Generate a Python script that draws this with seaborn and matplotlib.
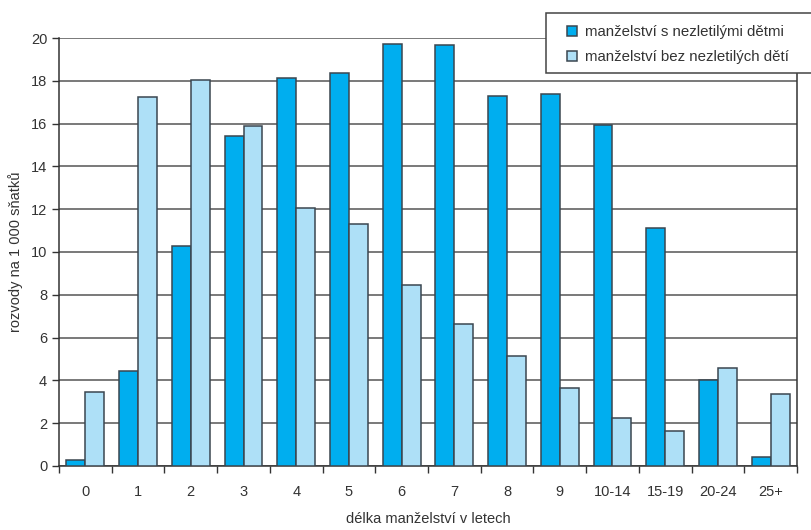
import matplotlib
matplotlib.use("Agg")
import matplotlib.pyplot as plt
from matplotlib.patches import Rectangle
import pandas as pd
import seaborn as sns

# délka manželství v letech
categories = ["0", "1", "2", "3", "4", "5", "6", "7", "8", "9",
              "10-14", "15-19", "20-24", "25+"]
s_detmi = [0.3, 4.45, 10.3, 15.4, 18.15, 18.35, 19.7, 19.65, 17.3, 17.4,
           15.95, 11.1, 4.0, 0.42]
bez_deti = [3.45, 17.25, 18.05, 15.9, 12.07, 11.3, 8.47, 6.65, 5.15, 3.65,
            2.25, 1.63, 4.57, 3.37]
series = ["manželství s nezletilými dětmi", "manželství bez nezletilých dětí"]

df = pd.DataFrame({
    "delka": categories * 2,
    "hodnota": s_detmi + bez_deti,
    "typ": [series[0]] * len(categories) + [series[1]] * len(categories),
})

sns.set_style("white")
plt.rcParams["font.family"] = ["Liberation Sans", "DejaVu Sans"]
txt = "#333333"

fig = plt.figure(figsize=(8.12, 5.30), dpi=100)
ax = fig.add_axes([0.0727, 0.1208, 0.9088, 0.8075])

palette = ["#00aeef", "#aee0f7"]
sns.barplot(data=df, x="delka", y="hodnota", hue="typ", palette=palette,
            width=0.72, gap=0, edgecolor="#3a4650", linewidth=1.1,
            saturation=1, ax=ax, zorder=3)

ax.set_ylim(0, 20)
ax.set_xlim(-0.5, len(categories) - 0.5)
ax.set_yticks(range(0, 21, 2))
ax.yaxis.grid(True, color="#555555", linewidth=1.1, zorder=0)
ax.set_axisbelow(True)

# tick marks between the groups
ax.set_xticks([i - 0.5 for i in range(len(categories) + 1)], minor=True)
ax.tick_params(axis="x", which="minor", length=5, width=1, color="#333333",
               direction="out", bottom=True)
ax.tick_params(axis="x", which="major", length=0, pad=14, labelsize=10.5,
               labelcolor=txt)
ax.tick_params(axis="y", length=5, width=1, direction="out", left=True,
               labelsize=10.5, labelcolor=txt, color="#333333")

for sp in ax.spines.values():
    sp.set_color("#333333")
    sp.set_linewidth(1.1)
ax.spines["top"].set_visible(False)

ax.set_xlabel("délka manželství v letech", fontsize=10.5, color=txt, labelpad=9)
ax.set_ylabel("rozvody na 1 000 sňatků", fontsize=10.5, color=txt, labelpad=6)

# legend box sticking out past the right edge
box = Rectangle((546 / 812, 1 - 73 / 530), 300 / 812, 60 / 530,
                transform=fig.transFigure, facecolor="white",
                edgecolor="#444444", linewidth=1.1, zorder=10)
fig.patches.append(box)

handles, labels = ax.get_legend_handles_labels()
ax.get_legend().remove()
leg = fig.legend(handles, labels, loc="upper left",
                 bbox_to_anchor=(567 / 812, 1 - 25 / 530), frameon=False,
                 fontsize=10.8, handlelength=0.7, handleheight=0.7,
                 handletextpad=0.5, labelspacing=0.75, borderpad=0,
                 borderaxespad=0, labelcolor=txt)
leg.set_zorder(11)

plt.savefig("out.png", dpi=100)
plt.close()
